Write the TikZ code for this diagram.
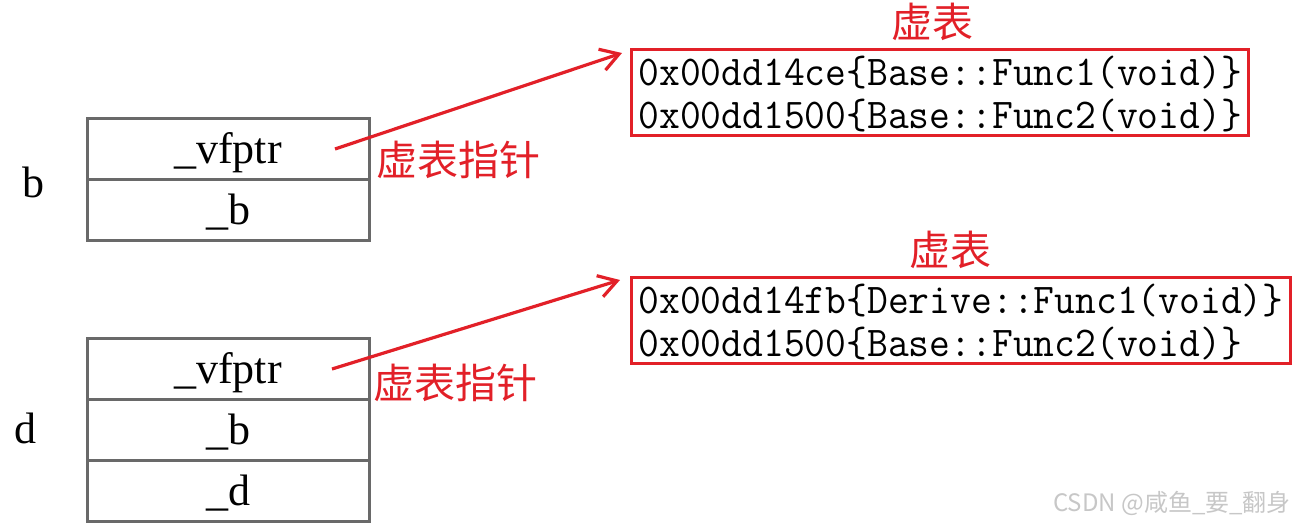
\documentclass[tikz,border=0pt]{standalone}
\usepackage{fontspec}
\setmainfont{Liberation Serif}
\newfontfamily\cjk{Noto Sans CJK SC}
\usepackage{graphicx}
\usetikzlibrary{arrows.meta,positioning}
\definecolor{vred}{RGB}{226,32,40}
\definecolor{cellgray}{RGB}{105,105,105}
\newcommand{\tline}[1]{\raisebox{0pt}[\height][0pt]{\scalebox{1}[1.05]{#1}}}
\newcommand{\tabfont}{\fontsize{20.2}{21.5}\selectfont\ttfamily
  \setlength{\lineskiplimit}{-50pt}\setlength{\lineskip}{0pt}}
\tikzset{
  cell/.style={draw=cellgray, line width=1.5pt, outer sep=0pt,
    minimum width=141pt, minimum height=30.5pt, text height=17pt, text depth=3pt,
    font=\fontsize{22}{25}\selectfont},
  vtab/.style={draw=vred, line width=1.5pt, anchor=north west, align=left,
    inner xsep=3.5pt, inner ysep=3.5pt, font=\tabfont},
  cn/.style={text=vred, font=\cjk\fontsize{20.5}{24}\selectfont},
  vptr/.style={draw=vred, line width=1.6pt,
    -{Straight Barb[length=9pt,width=11pt,line width=1.6pt]}}
}

\begin{document}
\begin{tikzpicture}[x=0.5pt,y=-0.5pt]
  \useasboundingbox (0,0) rectangle (1306,525);
  % object b
  \node[font=\fontsize{22}{25}\selectfont] (b) at (33,182) {b};
  \node[cell] (bvf) at (228,149) {\_vfptr};
  \node[cell,below=0pt of bvf] (bb) {\_b};
  % object d
  \node[font=\fontsize{22}{25}\selectfont] (d) at (25,428) {d};
  \node[cell] (dvf) at (228,369) {\_vfptr};
  \node[cell,below=0pt of dvf] (db) {\_b};
  \node[cell,below=0pt of db] (dd) {\_d};
  % vtables
  \node[vtab] (btab) at (630,48) {\tline{0x00dd14ce\{Base::Func1(void)\}}\\
    \tline{0x00dd1500\{Base::Func2(void)\}}};
  \node[cn] (btabl) at (932,22) {虚表};
  \node[vtab] (dtab) at (630,276) {\tline{0x00dd14fb\{Derive::Func1(void)\}}\\
    \tline{0x00dd1500\{Base::Func2(void)\}}};
  \node[cn] (dtabl) at (950,250) {虚表};
  % pointers
  \coordinate (bp) at ([xshift=-17pt]bvf.east);
  \draw[vptr] (bp) -- ([xshift=-4pt,yshift=-2.5pt]btab.north west);
  \node[cn] (bpl) at (458,160) {虚表指针};
  \coordinate (dp) at ([xshift=-18.5pt]dvf.east);
  \draw[vptr] (dp) -- ([xshift=-5pt,yshift=-2pt]dtab.north west);
  \node[cn] (dpl) at (455,383) {虚表指针};
  \node[text=black!22, font=\cjk\fontsize{12}{14}\selectfont] (wm) at (1172,503) {CSDN @咸鱼\_要\_翻身};
\end{tikzpicture}
\end{document}
